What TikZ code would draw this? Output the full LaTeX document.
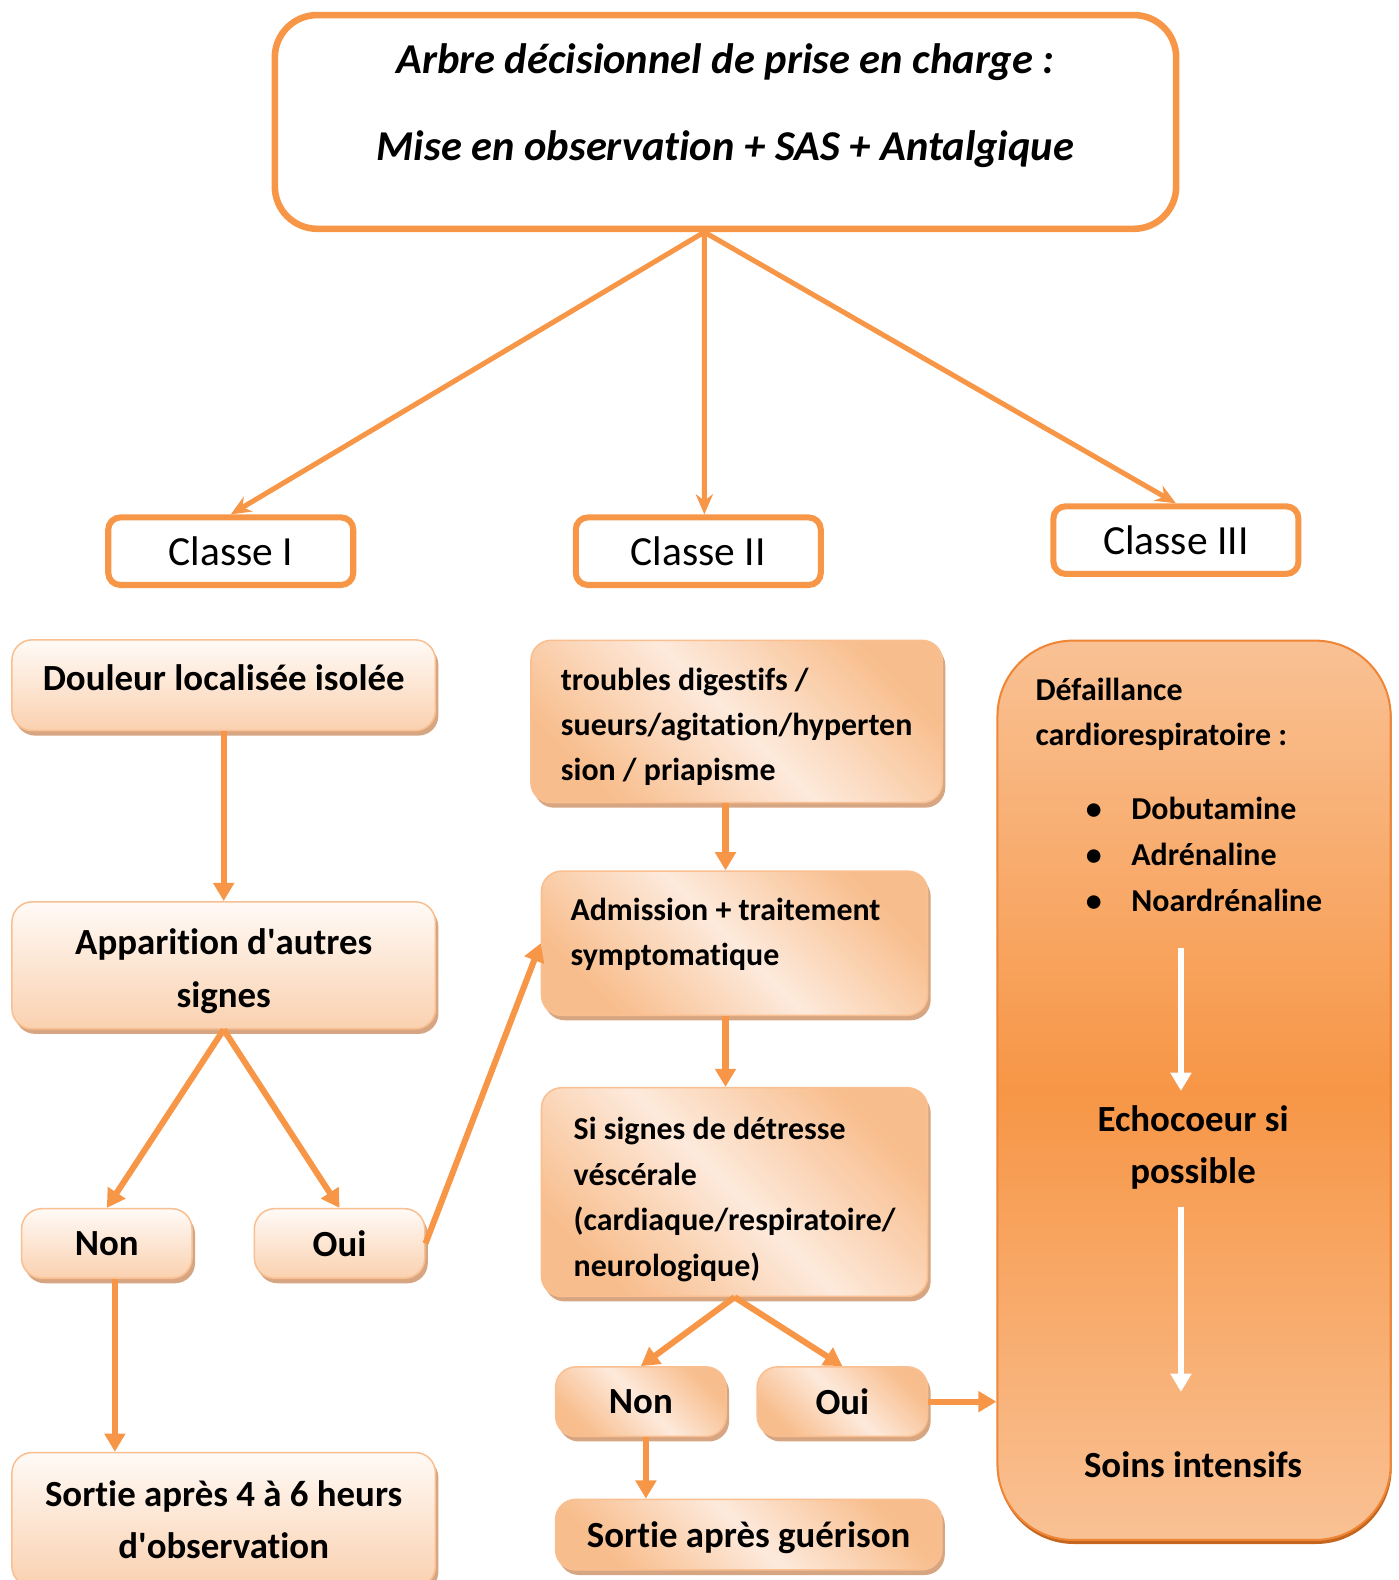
\documentclass[tikz,border=0pt]{standalone}
\usepackage{fontspec}
\setmainfont{Carlito}[Ligatures={NoCommon}]
\usetikzlibrary{positioning, calc, arrows.meta}

\definecolor{boxorange}{HTML}{F79646}
\definecolor{peachborder}{HTML}{F9BF90}
\definecolor{peachtop}{HTML}{FFFAF6}
\definecolor{peachbottom}{HTML}{FAD1B0}
\definecolor{peachcorner}{HTML}{F8BD8C}
\definecolor{peachcentre}{HTML}{FDEADC}
\definecolor{boxshadow}{HTML}{D6A582}
\definecolor{classthreelight}{HTML}{F9C194}
\definecolor{classthreeedge}{HTML}{EF8535}
\definecolor{classthreeshadow}{HTML}{C4661E}

\tikzset{
    titlebox/.style={draw=boxorange, line width=0.065cm, rounded corners=0.42cm, align=center,
        font=\fontsize{12pt}{14pt}\selectfont\bfseries\itshape},
    classbox/.style={draw=boxorange, line width=0.06cm, rounded corners=0.12cm,
        minimum width=2.43cm, minimum height=0.67cm, font=\fontsize{11.7pt}{14pt}\selectfont},
    peachbox/.style={draw=peachborder, line width=0.015cm, rounded corners=0.2cm,
        preaction={fill=boxshadow, transform canvas={xshift=0.03cm, yshift=-0.05cm}}},
    plainbox/.style={peachbox, top color=peachtop, bottom color=peachbottom, align=center},
    glossbox/.style={peachbox, top color=peachcorner, bottom color=peachcorner,
        middle color=peachcentre, shading angle=-45, align=left},
    bigtext/.style={font=\fontsize{10.4pt}{14.8pt}\selectfont\bfseries},
    smalltext/.style={font=\fontsize{9pt}{12.8pt}\selectfont\bfseries},
    urgencebox/.style={draw=classthreeedge, line width=0.02cm, rounded corners=0.75cm,
        top color=classthreelight, bottom color=classthreelight, middle color=boxorange,
        preaction={fill=classthreeshadow, transform canvas={xshift=0.01cm, yshift=-0.04cm}}},
    branch/.style={draw=boxorange, line width=0.05cm, -{Stealth[width=0.17cm, length=0.2cm]}},
    flow/.style={draw=boxorange, line width=0.06cm, -{Triangle[width=0.2cm, length=0.18cm]}},
    whiteflow/.style={draw=white, line width=0.06cm, -{Triangle[width=0.2cm, length=0.18cm]}}
}

\begin{document}
\begin{tikzpicture}[x=0.01cm, y=-0.01cm]

    \useasboundingbox (0,0) rectangle (1388,1568);

    % ================= Title =================
    \node[titlebox, minimum width=8.94cm, minimum height=2.12cm] (titre) at (720,121)
        {Arbre décisionnel de prise en charge :\\[0.37cm]Mise en observation + SAS + Antalgique\\[-0.1cm]\mbox{}};

    % ================= Classes =================
    \node[classbox] (classeI) at (229,547) {Classe I};
    \node[classbox] (classeII) at (693,547) {Classe II};
    \node[classbox] (classeIII) at (1167,536) {Classe III};

    \draw[branch] ([xshift=-0.21cm]titre.south) -- (classeI.north);
    \draw[branch] ([xshift=-0.21cm]titre.south) -- ($(classeII.north)+(6,0)$);
    \draw[branch] ([xshift=-0.21cm]titre.south) -- (classeIII.north);

    % ================= Classe I =================
    \node[plainbox, bigtext, minimum width=4.2cm, minimum height=0.9cm, text depth=0.15cm] (douleur) at (222,680) {Douleur localisée isolée};
    \node[plainbox, bigtext, minimum width=4.2cm, minimum height=1.26cm] (apparition) at (222,958)
        {\mbox{}\\[-0.15cm]Apparition d\textquotesingle autres\\signes};
    \node[plainbox, bigtext, minimum width=1.69cm, minimum height=0.69cm] (nonI) at (106,1234) {Non};
    \node[plainbox, bigtext, minimum width=1.69cm, minimum height=0.69cm] (ouiI) at (337,1234) {Oui};
    \node[plainbox, bigtext, minimum width=4.2cm, minimum height=1.33cm] (sortieI) at (222,1508)
        {Sortie après 4 à 6 heurs\\d\textquotesingle observation};

    \draw[flow] (douleur) -- (apparition);
    \draw[flow] (apparition.south) -- (nonI.north);
    \draw[flow] (apparition.south) -- (ouiI.north);
    \draw[flow] ($(nonI.south)+(8,0)$) -- ($(nonI.south |- sortieI.north)+(8,0)$);

    % ================= Classe II =================
    \node[glossbox, smalltext, minimum width=4.08cm, minimum height=1.61cm] (troubles) at (731,716)
        {\mbox{}\\[-0.12cm]troubles digestifs /\\sueurs/agitation/hyperten\\sion / priapisme};
    \node[glossbox, smalltext, minimum width=3.83cm, minimum height=1.43cm] (admission) at (729,936)
        {Admission + traitement\hspace*{0.18cm}\\symptomatique\\[-0.23cm]\mbox{}};
    \node[glossbox, smalltext, minimum width=3.83cm, minimum height=2.07cm] (detresse) at (729,1183)
        {\mbox{}\\[-0.08cm]Si signes de détresse\\véscérale\\(cardiaque/respiratoire/\\neurologique)};
    \node[glossbox, bigtext, minimum width=1.69cm, minimum height=0.69cm] (nonII) at (636,1391) {Non};
    \node[glossbox, bigtext, minimum width=1.69cm, minimum height=0.69cm] (ouiII) at (836,1391) {Oui};
    \node[glossbox, bigtext, minimum width=3.83cm, minimum height=0.7cm, text depth=0pt] (sortieII) at (743,1523) {Sortie après guérison};

    \draw[flow] (ouiI.east) -- (admission.west);
    \draw[flow] ($(admission.north |- troubles.south)+(-9,0)$) -- ($(admission.north)+(-9,0)$);
    \draw[flow] ($(admission.south)+(-9,0)$) -- ($(detresse.north)+(-9,0)$);
    \draw[flow] (detresse.south) -- (nonII.north);
    \draw[flow] (detresse.south) -- (ouiII.north);
    \draw[flow] ($(nonII.south)+(5,0)$) -- ($(nonII.south |- sortieII.north)+(5,0)$);

    % ================= Classe III =================
    \node[urgencebox, minimum width=3.9cm, minimum height=8.92cm] (urgence) at (1185,1082) {};

    \node[smalltext, anchor=north west, inner sep=0pt, align=left] (defail) at (1027,672)
        {Défaillance\\cardiorespiratoire :\\[0.28cm]
         \hspace*{0.5cm}\makebox[0.45cm][l]{\textbullet}Dobutamine\\[0.01cm]
         \hspace*{0.5cm}\makebox[0.45cm][l]{\textbullet}Adrénaline\\[0.01cm]
         \hspace*{0.5cm}\makebox[0.45cm][l]{\textbullet}Noardrénaline};
    \node[bigtext, align=center, inner sep=0pt] (echo) at (1184,1139) {Echocoeur si\\possible};
    \node[bigtext, inner sep=0pt] (soins) at (1184,1454) {Soins intensifs};

    \draw[whiteflow, shorten <=0.35cm, shorten >=0.14cm] ($(echo.north |- defail.south)+(-12,0)$) -- ($(echo.north)+(-12,0)$);
    \draw[whiteflow, shorten <=0.16cm, shorten >=0.59cm] ($(echo.south)+(-12,0)$) -- ($(echo.south |- soins.north)+(-12,0)$);

    \draw[flow] (ouiII.east) -- (ouiII.east -| urgence.west);

\end{tikzpicture}
\end{document}
